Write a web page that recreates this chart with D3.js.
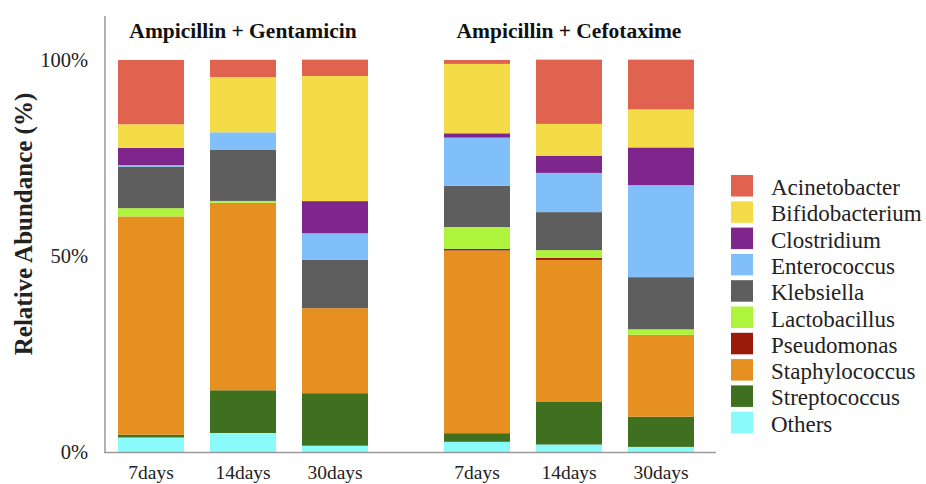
<!DOCTYPE html>
<html><head><meta charset="utf-8">
<script src="https://cdn.jsdelivr.net/npm/d3@7"></script>
<style>body{margin:0;background:#fff;} svg{display:block;}</style>
</head><body>
<svg id="chart" width="926" height="484"></svg>
<script>
const groups = ["Ampicillin + Gentamicin", "Ampicillin + Cefotaxime"];
const days = ["7days", "14days", "30days"];
const taxa = ["Acinetobacter","Bifidobacterium","Clostridium","Enterococcus","Klebsiella","Lactobacillus","Pseudomonas","Staphylococcus","Streptococcus","Others"];
const colors = ["#E0634F","#F3DC47","#7E268C","#80BFFA","#5E5E5E","#AEF43C","#9A1A0B","#E69022","#3F7020","#8AFBFA"];
const yTicks = [0, 50, 100];
const yTickLabels = ["0%", "50%", "100%"];
const legendLabels = ["Acinetobacter","Bifidobacterium","Clostridium","Enterococcus","Klebsiella","Lactobacillus","Pseudomonas","Staphylococcus","Streptococcus","Others"];
// values (%) per taxon, in order: AG 7d, AG 14d, AG 30d, AC 7d, AC 14d, AC 30d
const Acinetobacter   = [16.4, 4.4, 4.2, 1.0, 16.4, 12.7];
const Bifidobacterium = [6.0, 14.1, 31.9, 17.7, 8.1, 9.7];
const Clostridium     = [4.4, 0.0, 8.2, 1.1, 4.4, 9.6];
const Enterococcus    = [0.4, 4.4, 6.8, 12.3, 10.0, 23.5];
const Klebsiella      = [10.6, 13.1, 12.3, 10.5, 9.7, 13.3];
const Lactobacillus   = [2.1, 0.5, 0.0, 5.6, 2.0, 1.4];
const Pseudomonas     = [0.0, 0.0, 0.0, 0.4, 0.5, 0.0];
const Staphylococcus  = [55.7, 47.8, 21.7, 46.6, 36.1, 20.9];
const Streptococcus   = [0.7, 10.9, 13.4, 2.2, 11.0, 7.7];
const Others          = [3.7, 4.85, 1.6, 2.6, 1.9, 1.3];
const seriesValues = [Acinetobacter,Bifidobacterium,Clostridium,Enterococcus,Klebsiella,Lactobacillus,Pseudomonas,Staphylococcus,Streptococcus,Others];

const svg = d3.select("#chart");
const font = "'Liberation Serif','Times New Roman',serif";

const y = d3.scaleLinear().domain([0, 100]).range([452, 60]);
const xOuter = d3.scaleBand().domain(groups).range([118, 694]).paddingInner(76/326).paddingOuter(0);
const xInner = d3.scaleBand().domain(days).range([0, xOuter.bandwidth()]).paddingInner(26/92).paddingOuter(0);
const color = d3.scaleOrdinal().domain(taxa).range(colors);

const rows = [];
groups.forEach((g, gi) => days.forEach((d, di) => {
  const row = {group: g, day: d};
  taxa.forEach((t, ti) => row[t] = seriesValues[ti][gi*3 + di]);
  rows.push(row);
}));
const stackOrder = taxa.slice().reverse();
const stacked = d3.stack().keys(stackOrder)(rows);

const gBars = svg.append("g");
stacked.forEach(layer => {
  gBars.selectAll(null).data(layer).enter().append("rect")
    .attr("x", d => xOuter(d.data.group) + xInner(d.data.day))
    .attr("width", xInner.bandwidth())
    .attr("y", d => y(d[1]))
    .attr("height", d => Math.max(0, y(d[0]) - y(d[1])))
    .attr("fill", color(layer.key));
});

// axes
svg.append("line").attr("x1", 105).attr("x2", 105).attr("y1", 16).attr("y2", 452.5)
  .attr("stroke", "#9a9a9a").attr("stroke-width", 1.5);
svg.append("line").attr("x1", 104).attr("x2", 716).attr("y1", 452.5).attr("y2", 452.5)
  .attr("stroke", "#9a9a9a").attr("stroke-width", 1.5);

// y tick labels
svg.selectAll(".ytl").data(yTicks).enter().append("text")
  .attr("x", 88).attr("y", d => y(d) + 7)
  .attr("text-anchor", "end").attr("font-family", font).attr("font-size", 20.5).attr("fill", "#222")
  .text((d, i) => yTickLabels[i]);

// y title
svg.append("text").attr("transform", "translate(32,224) rotate(-90)")
  .attr("text-anchor", "middle").attr("font-family", font).attr("font-weight", "bold")
  .attr("font-size", 25).attr("fill", "#222").text("Relative Abundance (%)");

// x labels
groups.forEach(g => days.forEach(d => {
  svg.append("text").attr("x", xOuter(g) + xInner(d) + xInner.bandwidth()/2).attr("y", 479)
    .attr("text-anchor", "middle").attr("font-family", font).attr("font-size", 19.5).attr("fill", "#222").text(d);
}));

// group titles
groups.forEach(g => {
  svg.append("text").attr("x", xOuter(g) + xOuter.bandwidth()/2).attr("y", 38)
    .attr("text-anchor", "middle").attr("font-family", font).attr("font-weight", "bold")
    .attr("font-size", 21.5).attr("fill", "#111").text(g);
});

// legend
const lg = svg.append("g");
taxa.forEach((t, i) => {
  const yy = 175 + i * 26.3;
  lg.append("rect").attr("x", 731).attr("y", yy).attr("width", 22).attr("height", 21.5).attr("fill", color(t));
  lg.append("text").attr("x", 771).attr("y", yy + 20).attr("font-family", font).attr("font-size", 23)
    .attr("fill", "#222").text(legendLabels[i]);
});
</script>
</body></html>
